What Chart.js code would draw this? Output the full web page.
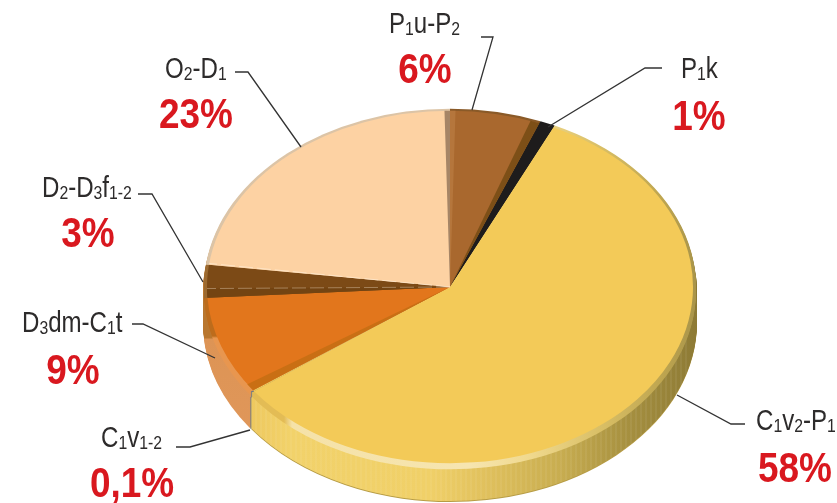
<!DOCTYPE html>
<html>
<head>
<meta charset="utf-8">
<title>Pie</title>
<script src="https://cdn.jsdelivr.net/npm/chart.js@4"></script>
<style>
  html, body { margin: 0; padding: 0; background: #fff; }
  canvas { display: block; }
</style>
</head>
<body>
<canvas id="pieChart" width="837" height="503"></canvas>
<script>
// === Data ===
// curly braces mark the subscript parts of the formation indexes
const categories = ["P{1}u-P{2}", "P{1}k", "C{1}v{2}-P{1}", "C{1}v{1-2}", "D{3}dm-C{1}t", "D{2}-D{3}f{1-2}", "O{2}-D{1}"];
const shares = [6, 1, 58, 0.1, 9, 3, 23];

// === Colours ===
// the 0,1% slice only shows on the wall, its face blends into the yellow one
const faceColors = ["#a9682e", "#1e1c1c", "#f3ca58", "#f3ca58", "#e2761c", "#7c4a16", "#fdd2a3"];
const textColor = "#2d2b2b";
const percentColor = "#d9181f";

// === Pie geometry (on screen pixels) ===
const CX = 450;
const CY = 287;
const FACE_R = 243;
const RIM_R = 247;
const TILT = 0.725;
const RIM_DEPTH = 4;
const WALL_DEPTH = 35;

// text is condensed horizontally, no narrow face is available
const NAME_SQUEEZE = 0.83;
const PERCENT_SQUEEZE = 0.88;

// label placement: name x / baseline, percent centre x / baseline, leader polyline
const labelLayout = [
  { x: 389, y: 33, px: 425, py: 83, line: [[481, 37], [493, 37], [472, 110]] },
  { x: 681, y: 78, px: 699, py: 130, line: [[662, 68], [645, 68], [548, 127]] },
  { x: 756, y: 430, px: 795, py: 482, line: [[745, 424], [731, 424], [677, 395]] },
  { x: 101, y: 447, px: 132, py: 497, line: [[176, 447], [190, 447], [250, 430]] },
  { x: 22, y: 332, px: 73, py: 384, line: [[132, 324], [143, 324], [215, 358]] },
  { x: 42, y: 197, px: 88, py: 247, line: [[138, 194], [152, 194], [203, 282]] },
  { x: 165, y: 78, px: 196, py: 128, line: [[235, 72], [248, 72], [301, 147]] },
];

const canvas = document.getElementById("pieChart");
const ctx = canvas.getContext("2d");

function hGradient(stops) {
  const g = ctx.createLinearGradient(200, 0, 700, 0);
  stops.forEach(([x, c]) => g.addColorStop((x - 200) / 500, c));
  return g;
}

function vGradient(stops) {
  const g = ctx.createLinearGradient(0, 280, 0, 440);
  stops.forEach(([y, c]) => g.addColorStop((y - 280) / 160, c));
  return g;
}

// side wall and bevel fills, same order as the categories
const wallColors = [
  "#8a5a28",
  "#1e1c1c",
  hGradient([[250, "#eec85e"], [290, "#f2d26a"], [430, "#f0d068"], [480, "#e2c25e"], [560, "#c8ad50"], [630, "#a58f3f"], [697, "#8d7a35"]]),
  "#6c7a85",
  vGradient([[280, "#b9772f"], [338, "#b9772f"], [339, "#dd9455"], [440, "#e0975a"]]),
  "#b9772f",
  "#b9772f",
];
const bevelColors = [
  "#8a5a28",
  "#1e1c1c",
  hGradient([[252, "#e3bc55"], [284, "#e3bc55"], [292, "#f5e2a8"], [470, "#f6e5b0"], [530, "#f0d98e"], [600, "#d9bf66"], [660, "#bfa650"], [697, "#a8944a"]]),
  "#6c7a85",
  vGradient([[280, "#bd6c1c"], [336, "#bd6c1c"], [338, "#e8964f"], [440, "#e8964f"]]),
  "#9c6a30",
  "#dcc4a6",
];

// pie wedge on the tilted plane, dropped by "shift" pixels
function wedge(start, end, radius, shift, fill) {
  const y = CY + shift;
  ctx.beginPath();
  ctx.moveTo(CX, y);
  ctx.ellipse(CX, y, radius, radius * TILT, 0, start, end);
  ctx.closePath();
  ctx.fillStyle = fill;
  ctx.fill();
}

function deg(d) {
  return (d * Math.PI) / 180;
}

// straight line from the apex out to the rim, as used for the pale seams
function seam(angle, alpha) {
  ctx.save();
  ctx.strokeStyle = `rgba(255, 240, 220, ${alpha})`;
  ctx.lineWidth = 1;
  ctx.setLineDash([14, 4]);
  ctx.beginPath();
  ctx.moveTo(CX, CY);
  ctx.lineTo(CX + FACE_R * Math.cos(angle), CY + FACE_R * TILT * Math.sin(angle));
  ctx.stroke();
  ctx.restore();
}

// === Plugin: extrude the pie and squash the arcs onto the tilted plane ===
const tiltedPie = {
  id: "tiltedPie",
  beforeDatasetsDraw(chart) {
    const arcs = chart.getDatasetMeta(0).data;

    // bottom edge, then the side wall layers
    arcs.forEach((arc, i) => {
      wedge(arc.startAngle, arc.endAngle, RIM_R, WALL_DEPTH + 1, i === 2 ? "#b79c45" : wallColors[i]);
    });
    for (let s = WALL_DEPTH; s > RIM_DEPTH; s--) {
      arcs.forEach((arc, i) => wedge(arc.startAngle, arc.endAngle, RIM_R, s, wallColors[i]));
    }

    // vertical ribbing on the yellow wall
    ctx.save();
    ctx.strokeStyle = "rgba(255, 255, 255, 0.08)";
    ctx.lineWidth = 1.5;
    for (let x = 256; x < 690; x += 5) {
      const dx = (x - CX) / RIM_R;
      const y0 = CY + RIM_R * TILT * Math.sqrt(1 - dx * dx);
      ctx.beginPath();
      ctx.moveTo(x, y0);
      ctx.lineTo(x, y0 + WALL_DEPTH);
      ctx.stroke();
    }
    ctx.restore();

    // bevel ring between wall and face
    for (let s = RIM_DEPTH; s >= 0; s--) {
      arcs.forEach((arc, i) => wedge(arc.startAngle, arc.endAngle, RIM_R - 1, s, bevelColors[i]));
    }

    ctx.save();
    ctx.translate(0, CY);
    ctx.scale(1, TILT);
    ctx.translate(0, -CY);
  },
  afterDatasetsDraw(chart) {
    ctx.restore();
    const arcs = chart.getDatasetMeta(0).data;

    // darker cut faces along some of the slice edges
    wedge(arcs[0].startAngle, arcs[0].startAngle + deg(1.3), FACE_R, 0, "#b5763c");
    wedge(arcs[0].endAngle - deg(2.2), arcs[0].endAngle, FACE_R, 0, "#7d4f17");
    wedge(arcs[4].startAngle, arcs[4].startAngle + deg(2.4), FACE_R, 0, "#c96f14");
    wedge(arcs[5].startAngle, arcs[5].startAngle + deg(3), FACE_R, 0, "#734412");
    wedge(arcs[6].endAngle - deg(1.3), arcs[6].endAngle, FACE_R, 0, "#a68566");

    seam(arcs[5].startAngle + deg(3), 0.35);
    seam(arcs[6].startAngle + deg(0.4), 0.6);

    drawLabels();
  },
};

// === Labels ===
function drawName(text, x, y) {
  const runs = text.split(/(\{[^}]*\})/).filter(Boolean);
  ctx.save();
  ctx.translate(x, y);
  ctx.scale(NAME_SQUEEZE, 1);
  ctx.fillStyle = textColor;
  ctx.textAlign = "left";
  let cursor = 0;
  runs.forEach((run) => {
    const isSub = run[0] === "{";
    const str = isSub ? run.slice(1, -1) : run;
    ctx.font = (isSub ? "19px" : "29px") + ' "Liberation Sans", sans-serif';
    ctx.fillText(str, cursor, isSub ? 2 : 0);
    cursor += ctx.measureText(str).width;
  });
  ctx.restore();
}

function drawPercent(value, x, y) {
  ctx.save();
  ctx.translate(x, y);
  ctx.scale(PERCENT_SQUEEZE, 1);
  ctx.font = 'bold 42px "Liberation Sans", sans-serif';
  ctx.fillStyle = percentColor;
  ctx.textAlign = "center";
  ctx.fillText(String(value).replace(".", ",") + "%", 0, 0);
  ctx.restore();
}

function drawLabels() {
  ctx.save();
  ctx.strokeStyle = "#333";
  ctx.lineWidth = 1.3;
  labelLayout.forEach((l, i) => {
    ctx.beginPath();
    l.line.forEach(([x, y], k) => (k ? ctx.lineTo(x, y) : ctx.moveTo(x, y)));
    ctx.stroke();
    drawName(categories[i], l.x, l.y);
    drawPercent(shares[i], l.px, l.py);
  });
  ctx.restore();
}

// === Chart ===
new Chart(ctx, {
  type: "pie",
  data: {
    labels: categories,
    datasets: [
      {
        data: shares,
        backgroundColor: faceColors,
        borderWidth: 0,
        radius: FACE_R,
        clip: false,
      },
    ],
  },
  options: {
    responsive: false,
    animation: false,
    events: [],
    // moves the arc centre to CX / CY
    layout: { padding: { left: CX * 2 - 837, top: CY * 2 - 503, right: 0, bottom: 0 } },
    plugins: {
      legend: { display: false },
      tooltip: { enabled: false },
    },
  },
  plugins: [tiltedPie],
});
</script>
</body>
</html>
